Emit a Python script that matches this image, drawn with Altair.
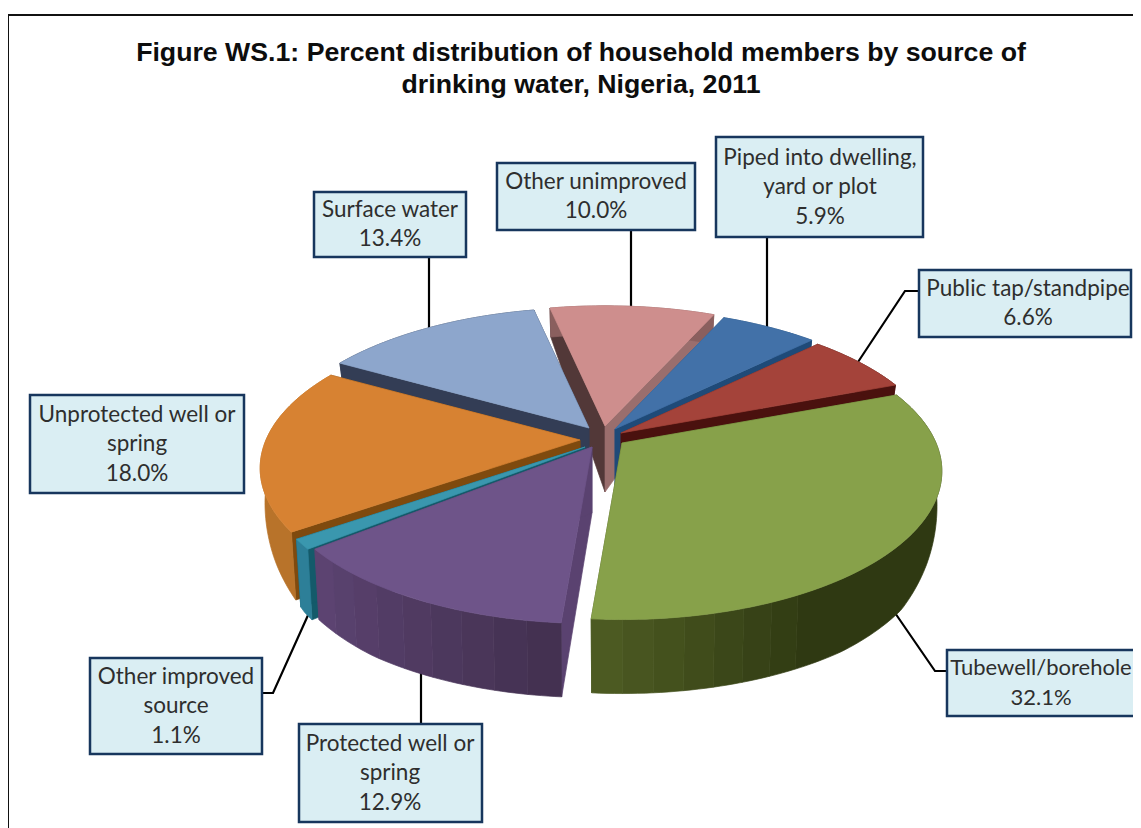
import math
import altair as alt
import pandas as pd

# ---- data (clockwise from the back of the pie)
categories = ["Piped into dwelling, yard or plot", "Public tap/standpipe", "Tubewell/borehole",
              "Protected well or spring", "Other improved source", "Unprotected well or spring",
              "Surface water", "Other unimproved"]
values = [5.9, 6.6, 32.1, 12.9, 1.1, 18.0, 13.4, 10.0]
top_colors = ["#4271A8", "#A4433A", "#87A14A", "#6E5489", "#3A97AE", "#D78232", "#8DA6CC", "#CE8E8D"]
rim_left = ["#1F4A78", "#4A110E", "#2F3912", "#42304F", "#2D7F98", "#B8732A", "#333D55", "#8A5F5E"]
rim_right = ["#1F4A78", "#4A110E", "#4C5A22", "#5D4473", "#2D7F98", "#B8732A", "#333D55", "#8A5F5E"]
start_face = ["#2E5583", "#6E2A24", "#4C5A22", "#5A4270", "#145A6A", "#7F4A0E", "#333D55", "#523838"]
end_face = ["#1F4A78", "#4A110E", "#4C5A22", "#5A4270", "#145A6A", "#7F4A0E", "#333D55", "#9A6E6D"]

title_lines = ["Figure WS.1: Percent distribution of household members by source of",
               "drinking water, Nigeria, 2011"]

box_lines = [["Piped into dwelling,", "yard or plot", "5.9%"],
             ["Public tap/standpipe", "6.6%"],
             ["Tubewell/borehole", "32.1%"],
             ["Protected well or", "spring", "12.9%"],
             ["Other improved", "source", "1.1%"],
             ["Unprotected well or", "spring", "18.0%"],
             ["Surface water", "13.4%"],
             ["Other unimproved", "10.0%"]]

# ---- layout (page pixels)
W, H = 1133, 828
apex_x = [615, 621, 622, 592, 585, 580, 589, 605]
apex_y = [429, 433, 443, 447, 447, 440, 428, 426]
box_x0 = [716, 919, 947, 299, 90, 30, 314, 497]
box_x1 = [923, 1131, 1160, 482, 262, 244, 466, 695]
box_y0 = [137, 270, 650, 724, 658, 395, 192, 163]
box_y1 = [237, 337, 716, 822, 754, 493, 257, 230]
text_cx = [820, 1028, 1041, 390, 176, 137, 390, 596]
text_sz = [22.5, 22.5, 22, 22.5, 22.5, 22.5, 22.5, 22.5]
leaders = [[(767, 237), (767, 330)],
           [(919, 291), (905, 291), (858, 362)],
           [(947, 671), (935, 671), (893, 610)],
           [(421, 724), (421, 670)],
           [(262, 693), (273, 693), (309, 613)],
           [],
           [(429, 257), (429, 332)],
           [(631, 230), (631, 308)]]
START = 24.0
P1, RX, RY = 0.19, 314.0, 143.0
XK, APEX_DEPTH = 0.985, 66.0
depth_v = [-1.0, 0.0, 0.2, 0.42, 0.6, 0.8, 1.0]
depth_d = [29.0, 28.0, 35.0, 55.0, 70.0, 74.0, 74.0]


def top_pt(theta):
    u, v = math.sin(math.radians(theta)), -math.cos(math.radians(theta))
    w = 1 - P1 * v
    return RX * u / w, RY * v / w


def depth_at(theta):
    v = -math.cos(math.radians(theta))
    for k in range(len(depth_v) - 1):
        if v <= depth_v[k + 1]:
            f = (v - depth_v[k]) / (depth_v[k + 1] - depth_v[k])
            return depth_d[k] + (depth_d[k + 1] - depth_d[k]) * f
    return depth_d[-1]


def bot_pt(theta):
    x, y = top_pt(theta)
    return x * XK, y + depth_at(theta)


def mix(a, b, t):
    ca = [int(a[i:i + 2], 16) for i in (1, 3, 5)]
    cb = [int(b[i:i + 2], 16) for i in (1, 3, 5)]
    return "#%02x%02x%02x" % tuple(round(x + (y - x) * t) for x, y in zip(ca, cb))


features = []


def poly(points, color):
    ring = [list(p) for p in points] + [list(points[0])]
    features.append({"type": "Feature", "properties": {"c": color},
                     "geometry": {"type": "Polygon", "coordinates": [ring]}})


bounds = [START]
for val in values:
    bounds.append(bounds[-1] + val * 3.6)

draw_order = [7, 0, 1, 6, 5, 4, 3, 2]
for i in draw_order:
    t0, t1 = bounds[i], bounds[i + 1]
    ax, ay = apex_x[i], apex_y[i]
    top = lambda th: (ax + top_pt(th)[0], ay + top_pt(th)[1])
    bot = lambda th: (ax + bot_pt(th)[0], ay + bot_pt(th)[1])
    apex_b = (ax, ay + APEX_DEPTH)
    poly([(ax, ay), top(t0), bot(t0), apex_b], start_face[i])
    poly([(ax, ay), top(t1), bot(t1), apex_b], end_face[i])
    if i == 2:  # flat dark run, then a banded lighter run towards the front
        a0 = t0 + (t1 - t0) * 0.72
        n = 7
        runs = [(t0, a0, rim_left[i])]
        runs += [(a0 + (t1 - a0) * k / n, a0 + (t1 - a0) * (k + 1) / n,
                  mix(rim_left[i], rim_right[i], (k + 1) / n)) for k in range(n)]
    elif i == 3:
        n = 9
        runs = [(t0 + (t1 - t0) * k / n, t0 + (t1 - t0) * (k + 1) / n,
                 mix(rim_left[i], rim_right[i], (k + 0.5) / n)) for k in range(n)]
    else:
        runs = [(t0, t1, rim_left[i])]
    for a, b, col in runs:
        m = max(2, int((b - a) / 1.0))
        arc = [a + (b - a) * k / m for k in range(m + 1)]
        poly([top(t) for t in arc] + [bot(t) for t in reversed(arc)], col)
    steps = max(4, int((t1 - t0) / 1.0))
    poly([(ax, ay)] + [top(t0 + (t1 - t0) * k / steps) for k in range(steps + 1)], top_colors[i])

xs = alt.Scale(domain=[8, W])
ys = alt.Scale(domain=[H, 8])
X = lambda f: alt.X(f, type="quantitative", scale=xs, axis=None)
Y = lambda f: alt.Y(f, type="quantitative", scale=ys, axis=None)

frame = pd.DataFrame({"x": [8, 8, W], "y": [H, 15, 15], "o": [0, 1, 2]})
frame_l = alt.Chart(frame).mark_line(color="#111111", strokeWidth=2).encode(
    x=X("x"), y=Y("y"), order="o:Q")

lead = pd.DataFrame([{"id": i, "o": k, "x": p[0], "y": p[1]}
                     for i, l in enumerate(leaders) for k, p in enumerate(l)])
lead_l = alt.Chart(lead).mark_line(color="#000000", strokeWidth=2.2).encode(
    x=X("x"), y=Y("y"), detail="id:N", order="o:Q")

pie = alt.Chart(alt.Data(values=features)).mark_geoshape(strokeWidth=0.7).encode(
    fill=alt.Fill("properties.c:N", scale=None),
    stroke=alt.Stroke("properties.c:N", scale=None),
).project(type="identity", scale=1, translate=[-8, -8], reflectY=False)

boxes = pd.DataFrame({"x": box_x0, "x2": box_x1, "y": box_y0, "y2": box_y1})
box_l = alt.Chart(boxes).mark_rect(fill="#DAEEF3", stroke="#17365D", strokeWidth=2.5).encode(
    x=X("x"), x2="x2", y=Y("y"), y2="y2")

rows = []
for i, lines in enumerate(box_lines):
    y_mid = (box_y0[i] + box_y1[i]) / 2
    for k, s in enumerate(lines):
        rows.append({"x": text_cx[i], "y": y_mid + (k - (len(lines) - 1) / 2) * 29.5, "t": s, "s": text_sz[i]})
text_l = alt.Chart(pd.DataFrame(rows)).mark_text(
    font="Lato", color="#2e2e2e", align="center", baseline="middle").encode(
    x=X("x"), y=Y("y"), text="t:N", size=alt.Size("s:Q", scale=None))

title_df = pd.DataFrame({"x": [581, 581], "y": [53, 85], "t": title_lines})
title_l = alt.Chart(title_df).mark_text(
    font="Liberation Sans", fontWeight="bold", fontSize=26.7, color="#0d0d0d",
    align="center", baseline="middle").encode(x=X("x"), y=Y("y"), text="t:N")

chart = alt.layer(frame_l, lead_l, pie, box_l, text_l, title_l).properties(
    width=W - 8, height=H - 8, padding=0, background="white",
    autosize=alt.AutoSizeParams(type="none")
).configure_view(stroke=None)

chart.save("out.html", embed_options={"renderer": "svg", "actions": False})
